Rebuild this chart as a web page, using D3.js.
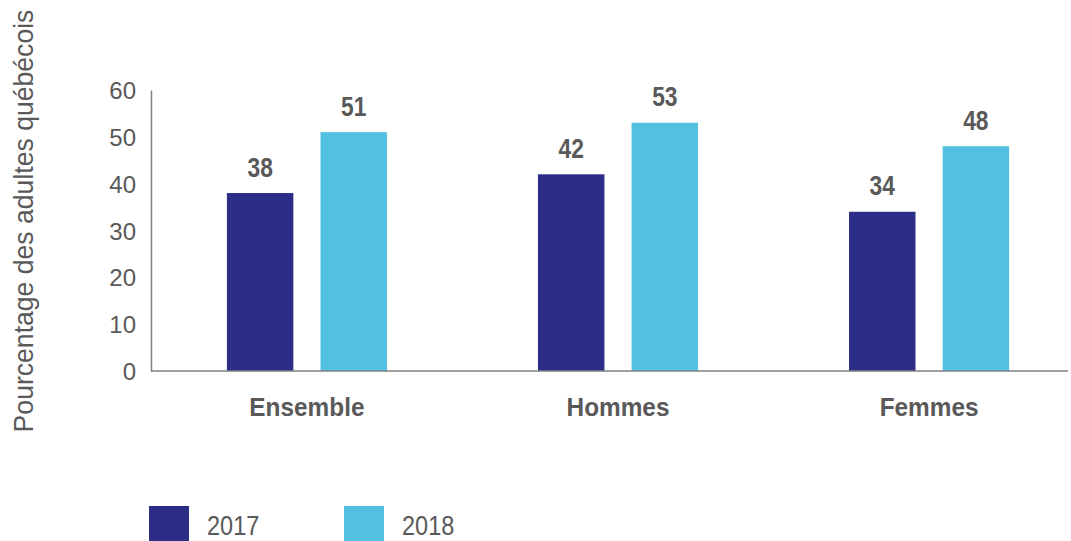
<!DOCTYPE html>
<html><head><meta charset="utf-8">
<script src="https://cdn.jsdelivr.net/npm/d3@7"></script>
<style>
body{margin:0;background:#fff;}
text{font-family:"Liberation Sans",Arial,sans-serif;}
</style></head><body>
<svg id="c" width="1071" height="541"></svg>
<script>
const categories = ["Ensemble", "Hommes", "Femmes"];
const seriesNames = ["2017", "2018"];
const values2017 = [38, 42, 34];
const values2018 = [51, 53, 48];
const yTicks = [0, 10, 20, 30, 40, 50, 60];
const yTitle = "Pourcentage des adultes québécois";
const colors = ["#2B2D87", "#52C1E1"];

const svg = d3.select("#c");
const x0 = d3.scaleBand().domain(categories).range([151, 1085]).paddingInner(0.4855).paddingOuter(0.244);
const x1 = d3.scaleBand().domain(seriesNames).range([0, x0.bandwidth()]).paddingInner(0.29).paddingOuter(0);
const y = d3.scaleLinear().domain([0, 60]).range([371, 90]);
const series = [values2017, values2018];
const txt = "#595959";

function label(x, yy, str, size, sx, opts = {}) {
  return svg.append("text")
    .attr("transform", `translate(${x},${yy})${opts.rot ? " rotate(" + opts.rot + ")" : ""} scale(${sx},1)`)
    .attr("text-anchor", opts.anchor || "start")
    .attr("font-weight", opts.bold ? "bold" : "normal")
    .attr("fill", txt).style("font-size", size + "px").text(str);
}

// y axis
const yAxis = svg.append("g").attr("transform", "translate(151,0)")
  .call(d3.axisLeft(y).tickValues(yTicks).tickSize(0).tickPadding(15));
yAxis.select(".domain").attr("stroke", "#7f7f7f").attr("stroke-width", 1.5);
yAxis.selectAll("text").attr("fill", txt).style("font-size", "24px").attr("dy", "0.36em");

// bars
categories.forEach((c, i) => {
  seriesNames.forEach((s, j) => {
    const v = series[j][i];
    svg.append("rect").attr("x", x0(c) + x1(s)).attr("y", y(v))
      .attr("width", x1.bandwidth()).attr("height", y(0) - y(v)).attr("fill", colors[j]);
    label(x0(c) + x1(s) + x1.bandwidth() / 2, y(v) - 16.5, v, 28.5, 0.8, {anchor: "middle", bold: true});
  });
});

// x axis line
svg.append("line").attr("x1", 151).attr("x2", 1068).attr("y1", y(0)).attr("y2", y(0))
  .attr("stroke", "#7f7f7f").attr("stroke-width", 1.5);
const xAxis = svg.append("g").attr("transform", `translate(0,${y(0)})`)
  .call(d3.axisBottom(x0).tickSize(0).tickPadding(26));
xAxis.select(".domain").remove();
xAxis.selectAll("text").attr("fill", txt).attr("font-weight", "bold").style("font-size", "26.5px")
  .attr("transform", "scale(0.92,1)")
  .attr("x", 0);

// y title
label(33, 221, yTitle, 28, 0.95, {anchor: "middle", rot: -90});

// legend
const legX = [149, 344];
seriesNames.forEach((s, j) => {
  svg.append("rect").attr("x", legX[j]).attr("y", 506).attr("width", 40).attr("height", 36).attr("fill", colors[j]);
  label(legX[j] + 58, 535, s, 28, 0.84);
});
</script></body></html>
